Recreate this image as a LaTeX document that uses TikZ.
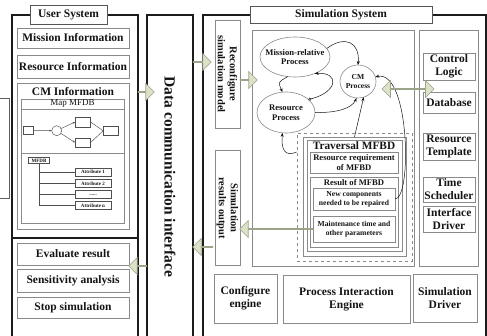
\documentclass[tikz,border=0pt]{standalone}
\usepackage{fontspec}
\setmainfont{Liberation Serif}
\usetikzlibrary{calc,arrows.meta,positioning,shapes.geometric,shapes.arrows}
\definecolor{frame}{HTML}{1C1C1C}
\definecolor{edge}{HTML}{8A8A8A}
\definecolor{ink}{HTML}{141414}
\definecolor{arrfill}{HTML}{DCE1C8}
\definecolor{arrline}{HTML}{9AA488}
\newcommand{\fmain}{\fontsize{11.5}{13}\selectfont\bfseries}
\newcommand{\fside}{\fontsize{10.5}{12}\selectfont\bfseries}
\newcommand{\fmid}{\fontsize{8.6}{9.8}\selectfont\bfseries}
\newcommand{\fsmall}{\fontsize{7.6}{9}\selectfont\bfseries}
\newcommand{\ftiny}{\fontsize{5}{6}\selectfont\bfseries}
\tikzset{
  frm/.style={draw=frame, line width=1.1pt, inner sep=0pt, outer sep=0pt},
  box/.style={draw=edge, line width=0.6pt, fill=white, inner sep=1pt, outer sep=0pt, align=center, text=ink, font=\fmain},
  ttl/.style={box, draw=frame!75},
  lab/.style={text=ink, inner sep=0pt, align=center},
  proc/.style={ellipse, draw=edge, line width=0.6pt, fill=white, inner sep=0pt, outer sep=0pt},
  plab/.style={lab, font=\fmid},
  mini/.style={draw=ink!75, line width=0.45pt, fill=white, inner sep=0pt, outer sep=0pt, font=\ftiny, text=ink},
  link/.style={draw=ink, line width=0.5pt, -{Stealth[length=4pt,width=3pt]}},
  twig/.style={draw=ink!75, line width=0.45pt},
  fatarr/.style={single arrow, draw=arrline, fill=arrfill, line width=0.6pt, minimum width=17pt, single arrow head extend=4.5pt, inner sep=0pt, outer sep=0pt},
  fatdbl/.style={double arrow, draw=arrline, fill=arrfill, line width=0.6pt, minimum width=17pt, double arrow head extend=4.5pt, inner sep=0pt, outer sep=0pt},
}
% #2 name, #3 tail, #4 tip
\newcommand{\fatarrow}[4][fatarr]{%
  \path let \p1=($(#4)-(#3)$), \n1={veclen(\x1,\y1)}, \n2={atan2(\y1,\x1)} in
    node[#1, minimum height=\n1, rotate=\n2] (#2) at ($(#3)!0.5!(#4)$) {};}

\begin{document}
\begin{tikzpicture}[x=1pt,y=-1pt]
  \useasboundingbox (0,0) rectangle (487,336);
  % frame of the next figure, cut off
  \draw[draw=frame!70, line width=0.6pt] (0,98) -| (9,198) -- (0,198);

  % user system
  \node[frm, minimum width=126pt, minimum height=330pt] (usr) at (75,180) {};
  \draw[frm] (usr.west |- 0,238) -- (usr.east |- 0,238);
  \node[ttl, minimum width=77pt, minimum height=19pt] (usrttl) at (68.5,14.5) {User System};
  \node[box, minimum width=112pt, minimum height=20pt] (mission) at (73,38) {Mission Information};
  \node[box, minimum width=112pt, minimum height=23pt] (resinfo) at (73,66.5) {Resource Information};
  \node[box, minimum width=112pt, minimum height=146pt] (cminfo) at (73,156) {};
  \node[lab, font=\fmain] (cmttl) at (73,91.5) {CM Information};
  \node[box, minimum width=103pt, minimum height=124pt] (mapbox) at (72.5,161) {};
  \draw[draw=edge, line width=0.6pt] (mapbox.west |- 0,109) -- (mapbox.east |- 0,109)
    (mapbox.west |- 0,153) -- (mapbox.east |- 0,153);
  \node[lab, font=\fontsize{9}{10}\selectfont] (mapttl) at (72.5,104) {Map MFDB};

  % map of the mfdb
  \node[mini, minimum width=10pt, minimum height=8pt] (f1) at (28.3,130.5) {};
  \node[mini, circle, minimum size=10pt] (f2) at (56.7,130.7) {};
  \node[mini, minimum width=15.5pt, minimum height=9.5pt] (f3) at (82.8,122) {};
  \node[mini, minimum width=15.5pt, minimum height=9.5pt] (f4) at (82.8,142.5) {};
  \node[mini, minimum width=14.5pt, minimum height=8.5pt] (f5) at (110.5,130.8) {};
  \draw[twig, -{Stealth[length=2.5pt,width=2pt]}] (f1) -- (f2);
  \draw[twig, -{Stealth[length=2.5pt,width=2pt]}] (f2) -- (f3.west);
  \draw[twig, -{Stealth[length=2.5pt,width=2pt]}] (f2) -- (f4.west);
  \draw[twig] (f3.east) -- (f5.west) (f4.east) -- (f5.west);

  % attribute tree
  \node[mini, minimum width=21pt, minimum height=6pt] (mfdb) at (39,160.5) {MFDB};
  \node[mini, minimum width=36pt, minimum height=8pt] (att1) at (93,172.2) {Attribute 1};
  \node[mini, minimum width=36pt, minimum height=8pt] (att2) at (93,183.3) {Attribute 2};
  \node[mini, minimum width=36pt, minimum height=8pt] (attd) at (93,194.7) {......};
  \node[mini, minimum width=36pt, minimum height=8pt] (attn) at (93,205.7) {Attribute n};
  \draw[twig] (mfdb.south) |- (attn.west);
  \foreach \a in {att1,att2,attd}
    \draw[twig] (mfdb.south |- \a.west) -- (\a.west);

  \node[box, minimum width=112pt, minimum height=22pt] (evalres) at (73,254) {Evaluate result};
  \node[box, minimum width=112pt, minimum height=23pt] (sens) at (73,280.5) {Sensitivity analysis};
  \node[box, minimum width=112pt, minimum height=21pt] (stopsim) at (73,307.5) {Stop simulation};

  % data communication interface
  \node[frm, minimum width=46pt, minimum height=330pt] (dci) at (170,180) {};
  \node[lab, rotate=-90, font=\fontsize{15.5}{17}\selectfont\bfseries] (dcitxt) at (170,177) {Data communication interface};

  % simulation system
  \node[frm, minimum width=283pt, minimum height=330pt] (sim) at (344.5,180) {};
  \node[ttl, minimum width=182pt, minimum height=17pt] (simttl) at (341,14.5) {Simulation System};
  \node[box, rotate=-90, minimum width=108pt, minimum height=25pt, font=\fside] (reconf) at (227.5,74) {Reconfigure\\simulation model};
  \node[box, rotate=-90, minimum width=115pt, minimum height=25pt, font=\fside] (simout) at (227.5,208) {Simulation\\results output};
  \node[box, minimum width=162pt, minimum height=236pt] (parea) at (333,148) {};
  \node[box, minimum width=59pt, minimum height=236pt] (rcol) at (448.5,148) {};
  \node[box, minimum width=52pt, minimum height=27pt] (ctrl) at (449,66.5) {Control\\Logic};
  \node[box, minimum width=52pt, minimum height=21pt] (dbase) at (449,102.5) {Database};
  \node[box, minimum width=52pt, minimum height=27pt] (rtmpl) at (449,146.5) {Resource\\Template};
  \node[box, minimum width=52pt, minimum height=25pt] (tsched) at (449,189.5) {Time\\Scheduler};
  \node[box, minimum width=52pt, minimum height=26pt] (idrv) at (449,219) {Interface\\Driver};
  \node[box, minimum width=63pt, minimum height=49pt] (cfg) at (245.5,298.5) {Configure\\engine};
  \node[box, minimum width=127pt, minimum height=48pt] (pie) at (346.5,299) {Process Interaction\\Engine};
  \node[box, minimum width=64pt, minimum height=48pt] (sdrv) at (445,298) {Simulation\\Driver};

  % traversal of the mfbd
  \node[draw=edge, dashed, line width=0.6pt, minimum width=115pt, minimum height=128pt, inner sep=0pt] (dashbox) at (354.5,197) {};
  \node[box, minimum width=103pt, minimum height=119pt] (trav) at (354.5,196.5) {};
  \node[box, minimum width=95pt, minimum height=111pt] (travin) at (354.5,195.5) {};
  \node[lab, font=\fontsize{11.3}{13}\selectfont\bfseries] (travttl) at (354,146) {Traversal MFBD};
  \node[box, minimum width=88pt, minimum height=21pt, font=\fmid] (rreq) at (354,162.5) {Resource requirement\\of MFBD};
  \node[box, minimum width=88pt, minimum height=70pt] (result) at (354,212) {};
  \node[lab, font=\fmid] (resttl) at (354,183) {Result of MFBD};
  \node[box, minimum width=82pt, minimum height=22pt, font=\fsmall] (newcomp) at (354,199) {New components\\needed to be repaired};
  \node[box, minimum width=82pt, minimum height=26pt, font=\fsmall] (maint) at (354,229) {Maintenance time and\\other parameters};

  % processes
  \node[proc, minimum width=70pt, minimum height=40pt] (mrp) at (295,57) {};
  \node[plab] (mrptxt) at (mrp) {Mission-relative\\Process};
  \node[proc, minimum width=58pt, minimum height=41pt] (rp) at (286,112.5) {};
  \node[plab] (rptxt) at (rp) {Resource\\Process};
  \node[proc, minimum width=36pt, minimum height=33pt] (cm) at (358,81.5) {};
  \node[plab, font=\fsmall] (cmtxt) at (cm) {CM\\Process};

  \draw[link] (mrp.15) .. controls (345,35) and (360,42) .. (cm.north);
  \draw[link] (mrp.250) .. controls (278,82) .. (rp.100);
  \draw[link, {Circle[open,length=3pt]}-{Stealth[length=4pt,width=3pt]}] (rp.30) .. controls (338,92) and (340,72) .. (mrp.320);
  \draw[link] (rp.east) .. controls (338,113) and (352,108) .. (cm.265);
  \draw[link] (trav.north) -- (cm.290);
  \draw[link] (dashbox.west |- rreq.north) .. controls (285,157) and (281,150) .. (rp.260);
  \draw[link] (newcomp.east) .. controls (412,199) and (410,70) .. (cm.15);

  % data flow arrows
  \coordinate (a1s) at (usr.east |- 0,92);
  \coordinate (a1e) at (154,92);
  \coordinate (a2s) at (dci.east |- 0,62);
  \coordinate (a2e) at (211,62);
  \coordinate (a3s) at (reconf.north |- 0,80);
  \coordinate (a3e) at (257,80);
  \coordinate (a5s) at (213,247);
  \coordinate (a5e) at (dci.east |- 0,247);
  \coordinate (a6s) at (dci.west |- 0,266);
  \coordinate (a6e) at (evalres.east |- 0,266);
  \coordinate (a7s) at (382,89);
  \coordinate (a7e) at (434,89);
  \fatarrow{fa1}{a1s}{a1e}
  \fatarrow{fa2}{a2s}{a2e}
  \fatarrow{fa3}{a3s}{a3e}
  \fatarrow{fa4}{maint.west}{simout.north |- maint.west}
  \fatarrow{fa5}{a5s}{a5e}
  \fatarrow{fa6}{a6s}{a6e}
  \fatarrow[fatdbl]{fa7}{a7s}{a7e}
\end{tikzpicture}
\end{document}
